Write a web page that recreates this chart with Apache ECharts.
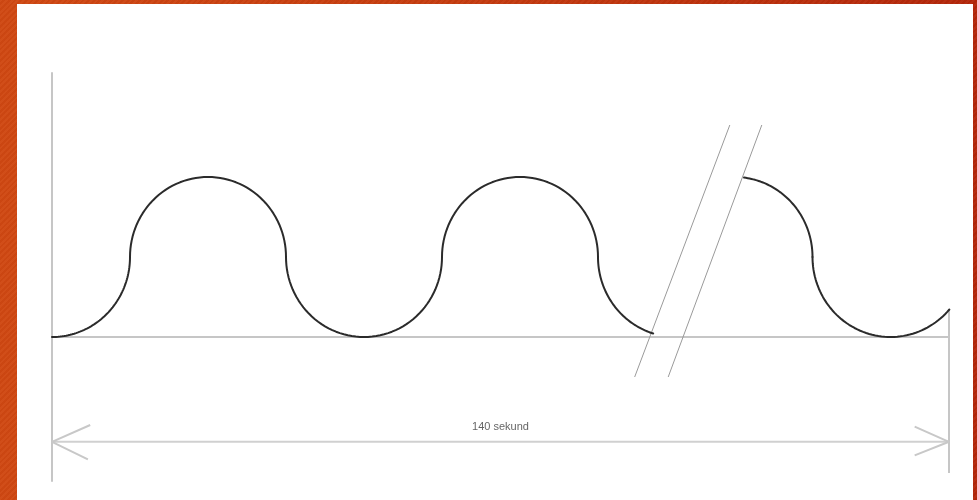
<!DOCTYPE html>
<html>
<head>
<meta charset="utf-8">
<script src="https://cdn.jsdelivr.net/npm/echarts@6/dist/echarts.min.js"></script>
<style>
  html, body { margin: 0; padding: 0; width: 977px; height: 500px; overflow: hidden; }
  body {
    background:
      repeating-linear-gradient(135deg, rgba(255,255,255,0.03) 0px, rgba(255,255,255,0.03) 2px, rgba(0,0,0,0.025) 2px, rgba(0,0,0,0.025) 4px),
      linear-gradient(90deg, #d04812 0%, #c43a0e 50%, #b3260a 100%);
  }
  #paper { position: absolute; left: 17px; top: 4px; right: 4px; bottom: 0; background: #ffffff; }
  #chart { position: absolute; left: 0; top: 0; width: 977px; height: 500px; }
</style>
</head>
<body>
<div id="paper"></div>
<div id="chart"></div>
<script>
// Wave arcs: [centerX, centerY, radius, startAngleDeg, endAngleDeg]
const arcsBeforeBreak = [
  [0, 1, 1, 270, 360],
  [2, 1, 1, 180, 0],
  [4, 1, 1, 180, 360],
  [6, 1, 1, 180, 0],
  [8, 1, 1, 180, 253]
];
const arcsAfterBreak = [
  [8.75, 1, 1, 83, 0],
  [10.75, 1, 1, 180, 319]
];
// Break marks (two parallel slanted lines)
const breakLine1 = [[8.69, 2.65], [7.47, -0.5]];
const breakLine2 = [[9.10, 2.65], [7.90, -0.5]];
// Right boundary line
const rightLine = [[11.5, 0.34], [11.5, -1.7]];
// Dimension arrow
const arrowShaft = [[0, -1.31], [11.5, -1.31]];
const arrowLeftHead = [[0.49, -1.10], [0, -1.31], [0.46, -1.53]];
const arrowRightHead = [[11.06, -1.12], [11.5, -1.31], [11.06, -1.48]];
const dimensionLabel = { text: '140 sekund', at: [5.75, -1.13] };

const chart = echarts.init(document.getElementById('chart'), null, { renderer: 'canvas' });

function arcSeries(arcs) {
  return {
    type: 'custom',
    coordinateSystem: 'cartesian2d',
    silent: true,
    z: 5,
    data: arcs,
    renderItem: function (params, api) {
      const cx = api.value(0), cy = api.value(1), r = api.value(2);
      const a0 = api.value(3), a1 = api.value(4);
      const steps = 60;
      const pts = [];
      for (let i = 0; i <= steps; i++) {
        const a = (a0 + (a1 - a0) * i / steps) * Math.PI / 180;
        pts.push(api.coord([cx + r * Math.cos(a), cy + r * Math.sin(a)]));
      }
      return {
        type: 'polyline',
        shape: { points: pts },
        style: { stroke: '#2b2b2b', lineWidth: 2, fill: null, lineJoin: 'round', lineCap: 'round' }
      };
    }
  };
}

function plainLine(data, color, width, z) {
  return {
    type: 'line',
    data: data,
    symbol: 'none',
    silent: true,
    animation: false,
    z: z || 2,
    lineStyle: { color: color, width: width }
  };
}

chart.setOption({
  animation: false,
  backgroundColor: 'transparent',
  grid: { left: 52, right: 28, top: 73, bottom: 19, containLabel: false },
  xAxis: {
    type: 'value', min: 0, max: 11.5,
    axisLine: { show: true, onZero: true, lineStyle: { color: '#c6c6c6', width: 2 } },
    axisTick: { show: false }, axisLabel: { show: false }, splitLine: { show: false }
  },
  yAxis: {
    type: 'value', min: -1.8, max: 3.3,
    axisLine: { show: true, onZero: false, lineStyle: { color: '#c6c6c6', width: 2 } },
    axisTick: { show: false }, axisLabel: { show: false }, splitLine: { show: false }
  },
  series: [
    plainLine(rightLine, '#c6c6c6', 2),
    plainLine(arrowShaft, '#d0d0d0', 2),
    plainLine(arrowLeftHead, '#c8c8c8', 2),
    plainLine(arrowRightHead, '#c8c8c8', 2),
    plainLine(breakLine1, '#9a9a9a', 1, 3),
    plainLine(breakLine2, '#9a9a9a', 1, 3),
    arcSeries(arcsBeforeBreak),
    arcSeries(arcsAfterBreak),
    {
      type: 'scatter',
      silent: true,
      symbolSize: 0,
      data: [dimensionLabel.at],
      label: {
        show: true, position: 'inside',
        formatter: dimensionLabel.text,
        color: '#3c3c3c', fontSize: 11, fontFamily: 'Liberation Sans, Arial, sans-serif'
      }
    }
  ]
});
</script>
</body>
</html>
